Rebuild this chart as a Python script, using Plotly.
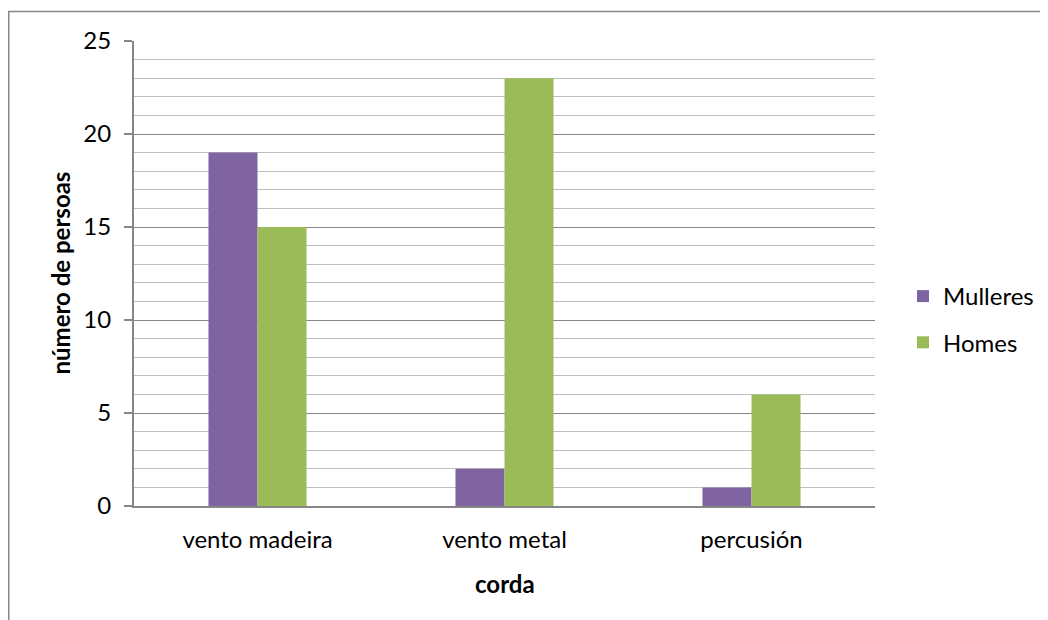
import plotly.graph_objects as go

categories = ["vento madeira", "vento metal", "percusión"]
mulleres = [19, 2, 1]
homes = [15, 23, 6]
y_ticks = [0, 5, 10, 15, 20, 25]

W, H = 1048, 620
# page has an 8px body margin, so figure coords are screen coords minus 8
L, T = 126, 33
PR, PB = 867, 498
R, B = W - PR, H - PB
pw, ph = PR - L, PB - T

font_family = "Lato, Open Sans, sans-serif"
FS = 24

fig = go.Figure()
fig.add_trace(go.Bar(name="Mulleres", x=categories, y=mulleres, legendgroup="m",
                     marker=dict(color="#8064A2", line=dict(width=0))))
fig.add_trace(go.Bar(name="Homes", x=categories, y=homes, legendgroup="h",
                     marker=dict(color="#9BBB59", line=dict(width=0))))

def px_to_paper_x(px):
    return (px - L) / pw

def px_to_paper_y(py):
    return (PB - py) / ph

fig.update_layout(
    width=W, height=H,
    margin=dict(l=L, r=R, t=T, b=B),
    paper_bgcolor="white", plot_bgcolor="white",
    barmode="group", bargap=0.603, bargroupgap=0,
    font=dict(family=font_family, size=FS, color="black"),
    showlegend=True,
    legend=dict(x=px_to_paper_x(895), y=px_to_paper_y(266), xanchor="left", yanchor="top",
                font=dict(size=FS), tracegroupgap=12, itemsizing="constant", itemwidth=30,
                bgcolor="rgba(0,0,0,0)"),
    xaxis=dict(showgrid=False, showline=True, linecolor="#868686", linewidth=2,
               ticks="", tickfont=dict(size=FS), ticklabelstandoff=11, zeroline=False,
               range=[-0.5, 2.5]),
    yaxis=dict(range=[0, 25], tickvals=y_ticks, showgrid=True, gridcolor="#868686", gridwidth=1,
               showline=True, linecolor="#868686", linewidth=2, ticks="outside", ticklen=8,
               tickcolor="#868686", tickwidth=2, tickfont=dict(size=FS), ticklabelstandoff=8,
               zeroline=False,
               minor=dict(dtick=1, showgrid=True, gridcolor="#BFBFBF", gridwidth=1, ticks="")),
    shapes=[dict(type="rect", xref="paper", yref="paper",
                 x0=px_to_paper_x(0.75), x1=px_to_paper_x(1100), y0=px_to_paper_y(700), y1=px_to_paper_y(3.5),
                 line=dict(color="#888888", width=1.5), fillcolor="rgba(0,0,0,0)", layer="below")],
    annotations=[
        dict(text="<b>número de persoas</b>", xref="paper", yref="paper", x=px_to_paper_x(52), y=0.5,
             textangle=-90, showarrow=False, font=dict(size=FS), xanchor="center", yanchor="middle"),
        dict(text="<b>corda</b>", xref="paper", yref="paper", x=0.5, y=px_to_paper_y(575),
             showarrow=False, font=dict(size=FS), xanchor="center", yanchor="middle"),
    ],
)

fig.write_html("out.html")
